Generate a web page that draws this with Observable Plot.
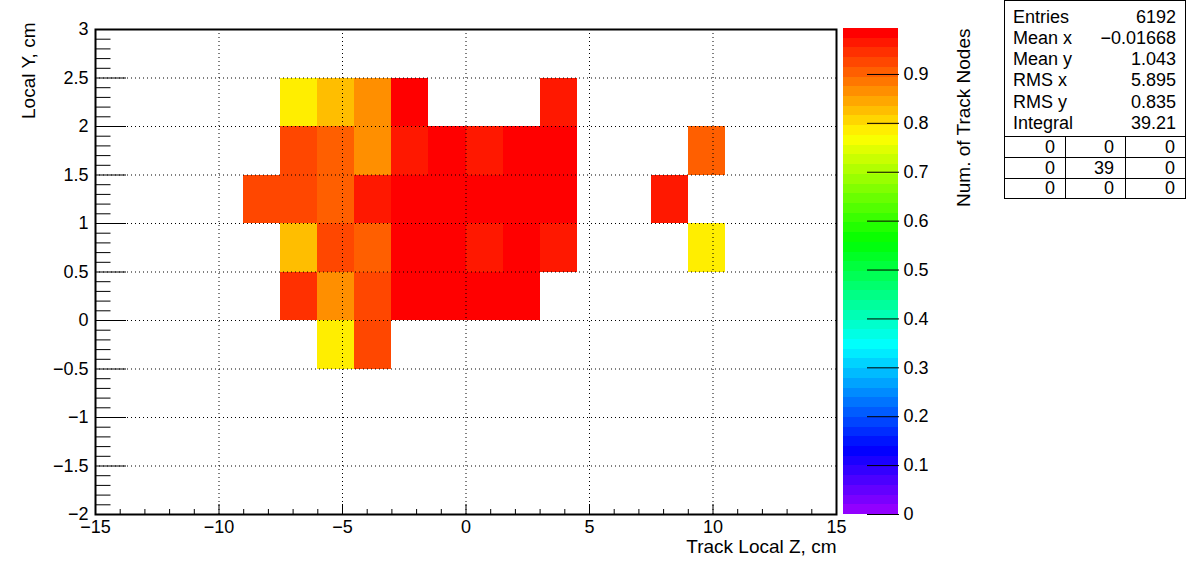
<!DOCTYPE html>
<html><head><meta charset="utf-8">
<script src="https://cdn.jsdelivr.net/npm/d3@7"></script>
<script src="https://cdn.jsdelivr.net/npm/@observablehq/plot@0.6"></script>
<style>
html,body{margin:0;padding:0;background:#fff;}
#chart{position:relative;width:1196px;height:572px;overflow:hidden;background:#fff;}
#chart svg{position:absolute;left:0;top:0;}
</style></head><body><div id="chart"></div>
<script>
// ---- data (TH2: Track Local Z vs Local Y, bin contents) ----
const binWidthX = 1.5;
const binWidthY = 0.5;
const rowY = [2, 1.5, 1, 0.5, 0, -0.5];
const rowX = [
  [-7.5, -6, -4.5, -3, 3],
  [-7.5, -6, -4.5, -3, -1.5, 0, 1.5, 3, 9],
  [-9, -7.5, -6, -4.5, -3, -1.5, 0, 1.5, 3, 7.5],
  [-7.5, -6, -4.5, -3, -1.5, 0, 1.5, 3, 9],
  [-7.5, -6, -4.5, -3, -1.5, 0, 1.5],
  [-6, -4.5]
];
const rowZ = [
  [0.78, 0.82, 0.86, 0.994, 0.96],
  [0.92, 0.90, 0.86, 0.96, 0.98, 0.96, 0.98, 0.98, 0.90],
  [0.92, 0.92, 0.90, 0.96, 0.98, 0.98, 0.98, 0.98, 0.98, 0.96],
  [0.82, 0.92, 0.90, 0.98, 0.98, 0.96, 0.98, 0.96, 0.78],
  [0.94, 0.86, 0.92, 0.98, 0.98, 0.98, 0.98],
  [0.78, 0.92]
];
const zMax = 0.994;
const xMajor = [-15, -10, -5, 0, 5, 10, 15];
const yMajor = [-2, -1.5, -1, -0.5, 0, 0.5, 1, 1.5, 2, 2.5, 3];
const zMajor = [0, 0.1, 0.2, 0.3, 0.4, 0.5, 0.6, 0.7, 0.8, 0.9];
const xTitle = "Track Local Z, cm";
const yTitle = "Local Y, cm";
const zTitle = "Num. of Track Nodes";
const statLabels = ["Entries", "Mean x", "Mean y", "RMS x", "RMS y", "Integral"];
const statValues = ["6192", "\u22120.01668", "1.043", "5.895", "0.835", "39.21"];
const overflowGrid = [["0", "0", "0"], ["0", "39", "0"], ["0", "0", "0"]];

// ---- derived ----
const cells = rowY.flatMap((y, r) => rowX[r].map((x, c) => ({x, y, z: rowZ[r][c]})));
const nColors = 50;
const palette = d3.range(nColors).map(i => d3.hsl(280 - (i + 1) * (280 / nColors), 1, 0.5).formatHex());
const thresholds = d3.range(1, nColors).map(i => i * zMax / nColors);
const bands = d3.range(nColors).map(i => ({lo: i * zMax / nColors, hi: (i + 1) * zMax / nColors}));
const xMinor = d3.range(-15, 15.001, 1).filter(v => !xMajor.includes(v));
const yMinor = d3.range(0, 51).map(i => -2 + i * 0.1).filter(v => !yMajor.some(m => Math.abs(m - v) < 1e-6));
const fmt = d => String(+d.toFixed(4)).replace("-", "\u2212");

const FONT = '"Liberation Sans", Arial, Helvetica, sans-serif';
const W = 1196, H = 572;
const colorScale = {type: "threshold", domain: thresholds, range: palette};
const grid = {stroke: "black", strokeOpacity: 1, strokeWidth: 1, strokeDasharray: "1,3"};

const main = Plot.plot({
  width: W, height: H,
  marginLeft: 95, marginRight: W - 836, marginTop: 29, marginBottom: H - 514,
  style: {fontFamily: FONT, fontSize: "18px", background: "transparent", color: "black", overflow: "visible"},
  x: {domain: [-15, 15], label: null},
  y: {domain: [-2, 3], label: null},
  color: colorScale,
  marks: [
    Plot.rect(cells, {x1: "x", x2: d => d.x + binWidthX, y1: "y", y2: d => d.y + binWidthY, fill: "z", shapeRendering: "crispEdges"}),
    Plot.gridX(xMajor.slice(1, -1), grid),
    Plot.gridY(yMajor.slice(1, -1), grid),
    Plot.axisX(xMajor, {tickSize: -10, fill: "none", label: null}),
    Plot.axisX(xMinor, {tickSize: -5, fill: "none", label: null}),
    Plot.axisX(xMajor, {tickSize: 0, tickPadding: 6, label: null, fontSize: 18, tickFormat: fmt}),
    Plot.axisY(yMajor, {tickSize: -31, fill: "none", label: null}),
    Plot.axisY(yMinor, {tickSize: -15.5, fill: "none", label: null}),
    Plot.axisY(yMajor, {tickSize: 0, tickPadding: 7, label: null, fontSize: 18, tickFormat: fmt}),
    Plot.frame({stroke: "black", strokeWidth: 2}),
    Plot.text([xTitle], {frameAnchor: "bottom-right", dy: 32, textAnchor: "end", lineAnchor: "middle", fontSize: 19}),
    Plot.text([yTitle], {frameAnchor: "top-left", dx: -67, dy: -7, rotate: -90, textAnchor: "end", lineAnchor: "middle", fontSize: 19})
  ]
});

const bar = Plot.plot({
  width: W, height: H,
  marginLeft: 843, marginRight: W - 898, marginTop: 28, marginBottom: H - 514,
  style: {fontFamily: FONT, fontSize: "18px", background: "transparent", color: "black", overflow: "visible"},
  x: {domain: [0, 1], axis: null},
  y: {domain: [0, zMax], label: null},
  color: colorScale,
  marks: [
    Plot.rect(bands, {x1: 0, x2: 1, y1: "lo", y2: "hi", fill: d => (d.lo + d.hi) / 2, shapeRendering: "crispEdges"}),
    Plot.axisY(zMajor, {anchor: "right", tickSize: -32, fill: "none", label: null}),
    Plot.axisY(zMajor, {anchor: "right", tickSize: 0, tickPadding: 5, label: null, fontSize: 18, tickFormat: fmt}),
    Plot.text([zTitle], {frameAnchor: "top-right", dx: 65, rotate: -90, textAnchor: "end", lineAnchor: "middle", fontSize: 19})
  ]
});

const chart = document.getElementById("chart");
chart.appendChild(main);
chart.appendChild(bar);

// ---- statistics box ----
const stats = d3.create("svg").attr("width", W).attr("height", H)
  .style("font-family", FONT).style("font-size", "18px");
const bx0 = 1004.5, bx1 = 1185.5, by0 = 0.5, by1 = 198.5;
stats.append("rect").attr("x", bx0).attr("y", by0).attr("width", bx1 - bx0).attr("height", by1 - by0)
  .attr("fill", "white").attr("stroke", "black");
const rowCenters = [17, 38, 59, 80, 102, 123];
statLabels.forEach((t, i) => {
  stats.append("text").attr("x", 1013).attr("y", rowCenters[i]).attr("dy", "0.35em").text(t);
  stats.append("text").attr("x", 1176).attr("y", rowCenters[i]).attr("dy", "0.35em").attr("text-anchor", "end").text(statValues[i]);
});
const hLines = [136.5, 157.5, 178.5];
hLines.forEach(y => stats.append("line").attr("x1", bx0).attr("x2", bx1).attr("y1", y).attr("y2", y).attr("stroke", "black"));
[1065.5, 1125.5].forEach(x => stats.append("line").attr("x1", x).attr("x2", x).attr("y1", 136.5).attr("y2", by1).attr("stroke", "black"));
const gridRight = [1055, 1114, 1175];
const gridCenters = [147, 168, 188];
overflowGrid.forEach((row, r) => row.forEach((t, c) => {
  stats.append("text").attr("x", gridRight[c]).attr("y", gridCenters[r]).attr("dy", "0.35em").attr("text-anchor", "end").text(t);
}));
chart.appendChild(stats.node());
</script></body></html>
